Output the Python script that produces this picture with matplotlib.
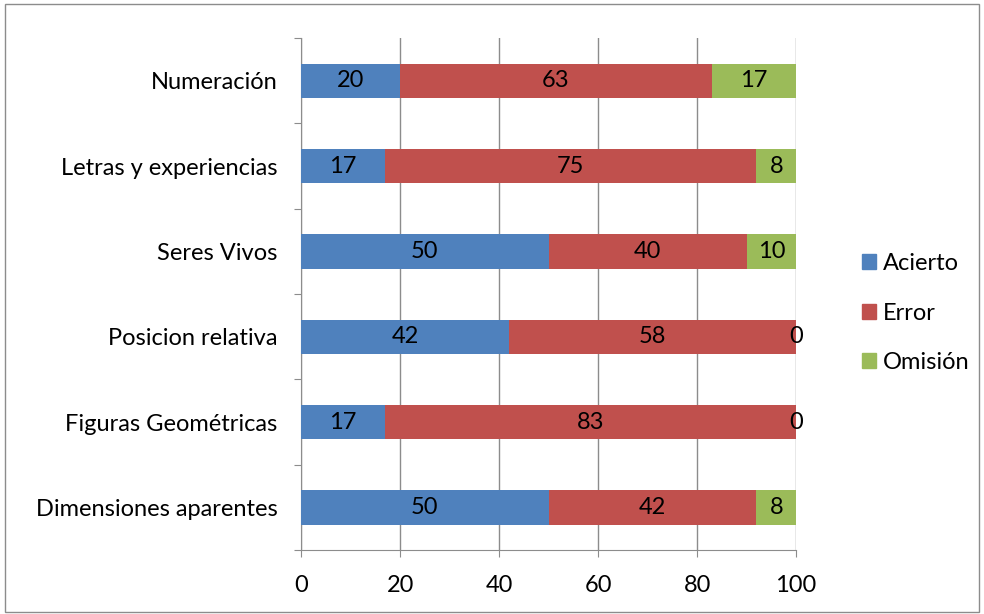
import matplotlib
matplotlib.use("Agg")
import matplotlib.pyplot as plt
from matplotlib.patches import Patch, Rectangle

categorias = ["Dimensiones aparentes", "Figuras Geométricas", "Posicion relativa",
              "Seres Vivos", "Letras y experiencias", "Numeración"]
acierto = [50, 17, 42, 50, 17, 20]
error = [42, 83, 58, 40, 75, 63]
omision = [8, 0, 0, 10, 8, 17]

series = [("Acierto", acierto, "#4F81BD"),
          ("Error", error, "#C0504D"),
          ("Omisión", omision, "#9BBB59")]

plt.rcParams['font.family'] = ['Lato', 'DejaVu Sans']
fs = 17

fig = plt.figure(figsize=(9.84, 6.14), dpi=100)
ax = fig.add_axes([0.306, 0.104, 0.503, 0.834])

pos = list(range(len(categorias)))
izq = [0] * len(categorias)
for nombre, vals, color in series:
    bars = ax.barh(pos, vals, left=izq, height=0.4, color=color, label=nombre, zorder=3)
    for b, v in zip(bars, vals):
        ax.text(b.get_x() + b.get_width() / 2, b.get_y() + b.get_height() / 2, str(v),
                ha="center", va="center", fontsize=fs, zorder=4)
    izq = [a + v for a, v in zip(izq, vals)]

ax.set_xlim(0, 100)
ax.set_ylim(-0.5, len(categorias) - 0.5)
ax.set_xticks(range(0, 101, 20))
ax.xaxis.grid(True, color="#8c8c8c", linewidth=1, zorder=0)
ax.tick_params(axis="x", labelsize=fs, length=5, color="#8c8c8c", pad=13)

# category labels at the bar centres, ticks on the band boundaries
ax.set_yticks([p - 0.5 for p in pos] + [len(categorias) - 0.5])
ax.set_yticklabels([])
ax.set_yticks(pos, minor=True)
ax.set_yticklabels(categorias, minor=True, fontsize=fs)
ax.tick_params(axis="y", which="minor", length=0, pad=17)
ax.tick_params(axis="y", which="major", length=5, color="#8c8c8c")

for lado in ["top", "right"]:
    ax.spines[lado].set_visible(False)
ax.spines["left"].set_color("#8c8c8c")
ax.spines["bottom"].set_color("#8c8c8c")

handles = [Patch(color=c, label=n) for n, _, c in series]
fig.legend(handles=handles, loc="center left", bbox_to_anchor=(0.876, 0.49),
           frameon=False, fontsize=fs, handlelength=0.6, handleheight=0.6,
           handletextpad=0.3, labelspacing=1.2, borderaxespad=0, borderpad=0)

fig.patches.append(Rectangle((0.005, 0.003), 0.99, 0.99, transform=fig.transFigure,
                             fill=False, edgecolor="#8c8c8c", linewidth=1))

fig.savefig("out.png", dpi=100)
